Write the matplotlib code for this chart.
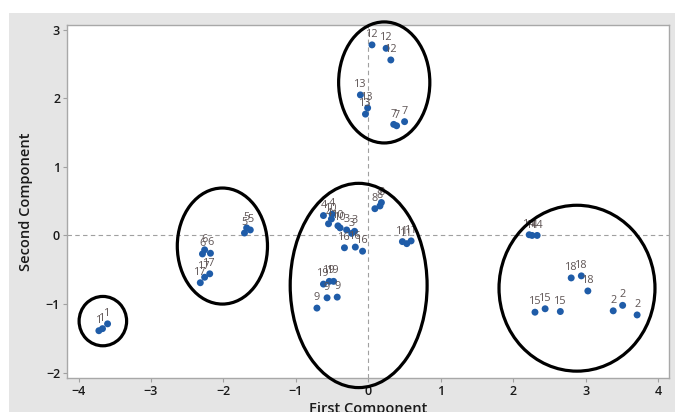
import matplotlib
matplotlib.use("Agg")
import matplotlib.pyplot as plt
from matplotlib.patches import Ellipse, Rectangle

plt.rcParams['font.family'] = ['Open Sans', 'DejaVu Sans']

# Score plot: first vs second principal component, three observations per sample
sample_ids = [1, 2, 3, 4, 5, 6, 7, 8, 9, 10, 11, 12, 13, 14, 15, 16, 17, 18, 19]
pc1 = {
    1: [-3.72, -3.67, -3.60],
    2: [3.38, 3.51, 3.71],
    3: [-0.30, -0.23, -0.19],
    4: [-0.62, -0.50, -0.55],
    5: [-1.71, -1.68, -1.63],
    6: [-2.29, -2.26, -2.18],
    7: [0.35, 0.39, 0.50],
    8: [0.09, 0.16, 0.18],
    9: [-0.57, -0.43, -0.71],
    10: [-0.51, -0.42, -0.39],
    11: [0.47, 0.53, 0.59],
    12: [0.05, 0.245, 0.31],
    13: [-0.11, -0.01, -0.04],
    14: [2.22, 2.26, 2.33],
    15: [2.30, 2.44, 2.65],
    16: [-0.33, -0.18, -0.08],
    17: [-2.32, -2.26, -2.19],
    18: [2.80, 2.94, 3.03],
    19: [-0.62, -0.54, -0.48],
}
pc2 = {
    1: [-1.39, -1.36, -1.29],
    2: [-1.10, -1.02, -1.16],
    3: [0.08, 0.03, 0.06],
    4: [0.29, 0.31, 0.17],
    5: [0.035, 0.11, 0.08],
    6: [-0.27, -0.21, -0.26],
    7: [1.62, 1.60, 1.66],
    8: [0.39, 0.43, 0.48],
    9: [-0.91, -0.90, -1.06],
    10: [0.24, 0.14, 0.11],
    11: [-0.09, -0.12, -0.08],
    12: [2.78, 2.73, 2.56],
    13: [2.05, 1.86, 1.77],
    14: [0.01, 0.0, 0.0],
    15: [-1.12, -1.07, -1.11],
    16: [-0.18, -0.17, -0.23],
    17: [-0.69, -0.61, -0.56],
    18: [-0.62, -0.59, -0.81],
    19: [-0.71, -0.67, -0.67],
}

# Cluster outlines: (centre x, centre y, width, height) in component units
cluster_cx = [-3.665, -2.015, -0.134, 0.219, 2.88]
cluster_cy = [-1.25, -0.155, -0.73, 2.232, -0.77]
cluster_w = [0.656, 1.245, 1.89, 1.259, 2.153]
cluster_h = [0.72, 1.693, 2.98, 1.766, 2.42]

x_ticks = [-4, -3, -2, -1, 0, 1, 2, 3, 4]
y_ticks = [-2, -1, 0, 1, 2, 3]

fig = plt.figure(figsize=(6.75, 4.12), dpi=100, facecolor='white')
fig.patches.append(Rectangle((9 / 675, 0), 1 - 9 / 675, (412 - 13) / 412,
                             transform=fig.transFigure, facecolor='#e5e5e5',
                             edgecolor='none', zorder=-10))
ax = fig.add_axes([67 / 675, 1 - 378 / 412, (669 - 67) / 675, (378 - 25) / 412])
ax.set_facecolor('white')

ax.axhline(0, color='#a0a0a0', lw=0.8, ls=(0, (4, 3)), zorder=1)
ax.axvline(0, color='#a0a0a0', lw=0.8, ls=(0, (4, 3)), zorder=1)

for sid in sample_ids:
    xs, ys = pc1[sid], pc2[sid]
    ax.scatter(xs, ys, s=25, color='#1f5ca8', edgecolors='none', zorder=3)
    for x, y in zip(xs, ys):
        ax.annotate(str(sid), (x, y), xytext=(0, 3.5), textcoords='offset points',
                    ha='center', va='bottom', fontsize=7.8, color='#5e5454', zorder=4)

for cx, cy, w, h in zip(cluster_cx, cluster_cy, cluster_w, cluster_h):
    ax.add_patch(Ellipse((cx, cy), w, h, fill=False, edgecolor='black',
                         lw=2.3, zorder=5, clip_on=False))

ax.set_xlim(-4.16, 4.15)
ax.set_ylim(-2.08, 3.07)
ax.set_xticks(x_ticks)
ax.set_yticks(y_ticks)
ax.tick_params(axis='both', length=3, width=0.8, color='#a0a0a0',
               labelsize=9, labelcolor='#1a1a1a', pad=2)
for lab in ax.get_xticklabels() + ax.get_yticklabels():
    lab.set_fontweight('semibold')
for sp in ax.spines.values():
    sp.set_color('#a8a8a8')
    sp.set_linewidth(1.0)

ax.set_xlabel('First Component', fontsize=10.5, fontweight='semibold',
              color='#1a1a1a', labelpad=3)
ax.set_ylabel('Second Component', fontsize=10.5, fontweight='semibold',
              color='#1a1a1a', labelpad=9)

fig.savefig('out.png', dpi=100, facecolor=fig.get_facecolor())
